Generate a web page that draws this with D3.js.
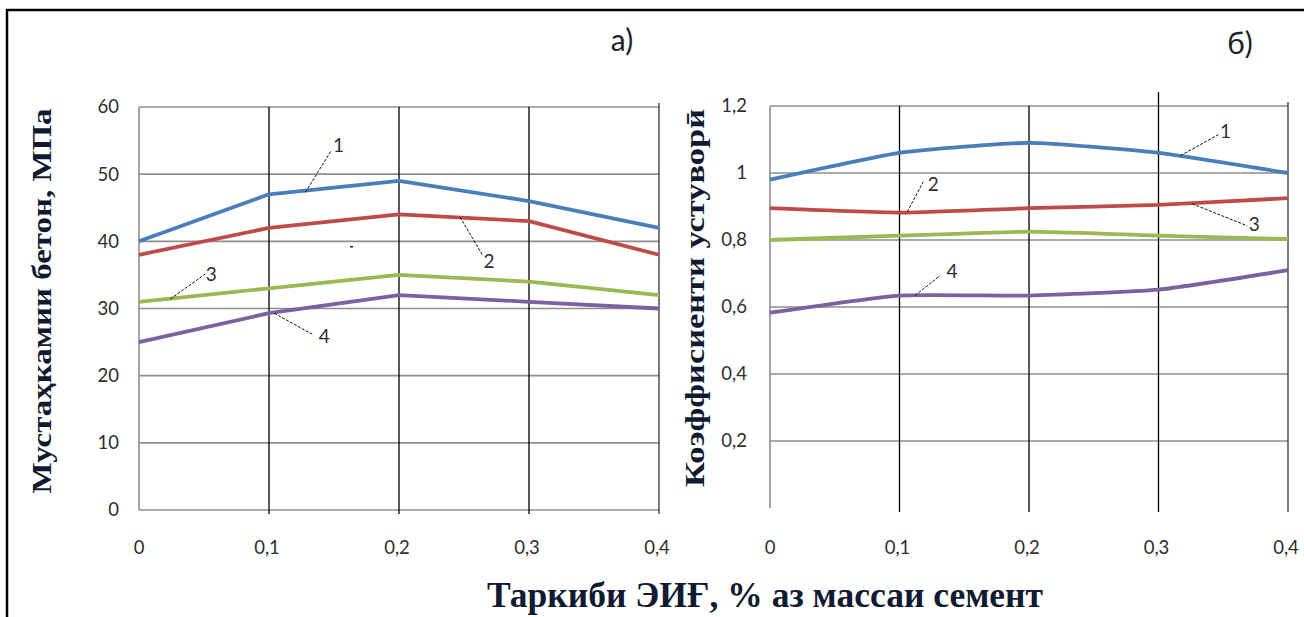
<!DOCTYPE html>
<html>
<head>
<meta charset="utf-8">
<script src="https://cdn.jsdelivr.net/npm/d3@7"></script>
<style>
  body { margin: 0; background: #fff; }
  svg { display: block; }
</style>
</head>
<body>
<script>
// x values (% of cement mass)
const xValues = [0, 0.1, 0.2, 0.3, 0.4];
const xTickLabels = ["0", "0,1", "0,2", "0,3", "0,4"];

// panel a) concrete strength, MPa
const strength1 = [40, 47, 49, 46, 42];
const strength2 = [38, 42, 44, 43, 38];
const strength3 = [31, 33, 35, 34, 32];
const strength4 = [25, 29.3, 32, 31, 30];
const strengthTicks = [0, 10, 20, 30, 40, 50, 60];
const strengthTickLabels = ["0", "10", "20", "30", "40", "50", "60"];

// panel b) stability coefficient
const coef1 = [0.98, 1.06, 1.09, 1.06, 1.0];
const coef2 = [0.895, 0.882, 0.895, 0.905, 0.925];
const coef3 = [0.80, 0.813, 0.825, 0.813, 0.803];
const coef4 = [0.583, 0.634, 0.634, 0.652, 0.71];
const coefTicks = [0.2, 0.4, 0.6, 0.8, 1.0, 1.2];
const coefTickLabels = ["0,2", "0,4", "0,6", "0,8", "1", "1,2"];

const seriesColors = ["#4a7ebb", "#be4b48", "#98b954", "#7d60a0"];

const W = 1304, H = 617;
const svg = d3.select("body").append("svg").attr("width", W).attr("height", H);

// outer frame (left and top edges only are visible)
svg.append("path")
  .attr("d", `M7,${H} L7,10 L${W},10`)
  .attr("fill", "none").attr("stroke", "#000").attr("stroke-width", 2.5);

const tickFont = "Lato, 'Open Sans', sans-serif";
const titleFont = "'Liberation Serif', 'DejaVu Serif', serif";

function drawPanel(cfg) {
  const g = svg.append("g");
  const x = d3.scaleLinear().domain([0, 0.4]).range([cfg.x0, cfg.x1]);
  const y = d3.scaleLinear().domain(cfg.yDomain).range([cfg.y0, cfg.y1]);

  // horizontal grid
  g.selectAll(".hgrid").data(cfg.gridY).join("line")
    .attr("x1", x(0)).attr("x2", x(0.4))
    .attr("y1", d => y(d)).attr("y2", d => y(d))
    .attr("stroke", "#8e8e8e").attr("stroke-width", 1.6);

  // left edge (grey)
  g.append("line")
    .attr("x1", x(0)).attr("x2", x(0))
    .attr("y1", y(cfg.yDomain[1])).attr("y2", y(cfg.yDomain[0]))
    .attr("stroke", "#8e8e8e").attr("stroke-width", 1.6);

  // vertical black lines
  g.selectAll(".vgrid").data(xValues.slice(1)).join("line")
    .attr("x1", d => x(d)).attr("x2", d => x(d))
    .attr("y1", d => y(cfg.yDomain[1]) - (cfg.tallX === d ? 14 : (d === 0.4 ? 4 : 0)))
    .attr("y2", y(cfg.yDomain[0]) + 4)
    .attr("stroke", d => d === 0.4 ? "#333" : "#000").attr("stroke-width", 1.3);

  // y tick labels
  g.selectAll(".ylab").data(cfg.yTicks).join("text")
    .attr("x", cfg.yLabelX).attr("y", d => y(d))
    .attr("dy", "0.35em").attr("text-anchor", "end")
    .attr("font-family", tickFont).attr("font-size", 18.5).attr("fill", "#2e2e2e")
    .text((d, i) => cfg.yTickLabels[i]);

  // x tick labels
  g.selectAll(".xlab").data(xValues).join("text")
    .attr("x", d => x(d) + (d === 0 ? 0 : -2)).attr("y", 548)
    .attr("dy", "0.35em").attr("text-anchor", "middle")
    .attr("font-family", tickFont).attr("font-size", 18.5).attr("fill", "#2e2e2e")
    .text((d, i) => xTickLabels[i]);

  // series
  const line = d3.line()
    .x((d, i) => x(xValues[i]))
    .y(d => y(d))
    .curve(cfg.curve);
  cfg.series.forEach((s, k) => {
    g.append("path").datum(s)
      .attr("fill", "none").attr("stroke", seriesColors[k])
      .attr("stroke-width", 3.8).attr("stroke-linejoin", "round")
      .attr("d", line);
  });

  // leader lines + numbers
  cfg.notes.forEach(n => {
    const px = x(n.at), py = y(n.val);
    g.append("line")
      .attr("x1", px).attr("y1", py)
      .attr("x2", px + n.dx).attr("y2", py + n.dy)
      .attr("stroke", "#111").attr("stroke-width", 1).attr("stroke-dasharray", "3,1.5");
    g.append("text")
      .attr("x", px + n.dx + n.tx).attr("y", py + n.dy + n.ty)
      .attr("dy", "0.35em").attr("text-anchor", "middle")
      .attr("font-family", tickFont).attr("font-size", 19).attr("fill", "#2e2e2e")
      .text(n.label);
  });

  // y title
  g.append("text")
    .attr("transform", `translate(${cfg.titleX},${cfg.titleY}) rotate(-90)`)
    .attr("text-anchor", "middle").attr("dy", "0.35em")
    .attr("font-family", titleFont).attr("font-weight", "bold")
    .attr("font-size", 28).attr("fill", "#101a30")
    .attr("textLength", cfg.titleLen).attr("lengthAdjust", "spacingAndGlyphs")
    .text(cfg.title);

  // panel letter
  g.append("text")
    .attr("x", cfg.letterX).attr("y", cfg.letterY)
    .attr("text-anchor", "middle").attr("dy", "0.35em")
    .attr("font-family", tickFont).attr("font-size", 30).attr("fill", "#222")
    .text(cfg.letter);
}

drawPanel({
  x0: 139, x1: 659, y0: 510, y1: 107,
  yDomain: [0, 60], gridY: strengthTicks, yTicks: strengthTicks, yTickLabels: strengthTickLabels,
  yLabelX: 119,
  series: [strength1, strength2, strength3, strength4],
  curve: d3.curveLinear,
  notes: [
    { at: 0.128, val: 47.3, dx: 26, dy: -42, tx: 7, ty: -5, label: "1" },
    { at: 0.247, val: 43.6, dx: 23, dy: 39, tx: 6, ty: 5, label: "2" },
    { at: 0.024, val: 31.4, dx: 35, dy: -25, tx: 6, ty: 0, label: "3" },
    { at: 0.104, val: 29.3, dx: 38, dy: 21, tx: 12, ty: 2, label: "4" }
  ],
  title: "Мустаҳкамии бетон, МПа", titleX: 41, titleY: 301, titleLen: 385,
  letter: "а)", letterX: 622, letterY: 40
});

drawPanel({
  x0: 770, x1: 1288, y0: 508, y1: 106,
  yDomain: [0, 1.2], gridY: coefTicks, yTicks: coefTicks, yTickLabels: coefTickLabels,
  yLabelX: 747, tallX: 0.3,
  series: [coef1, coef2, coef3, coef4],
  curve: d3.curveCardinal.tension(0.5),
  notes: [
    { at: 0.317, val: 1.052, dx: 38, dy: -21, tx: 7, ty: -3, label: "1" },
    { at: 0.106, val: 0.884, dx: 16, dy: -30, tx: 10, ty: 2, label: "2" },
    { at: 0.326, val: 0.908, dx: 55, dy: 22, tx: 7, ty: -1, label: "3" },
    { at: 0.112, val: 0.634, dx: 25, dy: -20, tx: 12, ty: -4, label: "4" }
  ],
  title: "Коэффисиенти устуворӣ", titleX: 694, titleY: 298, titleLen: 378,
  letter: "б)", letterX: 1240, letterY: 43
});

// shared x title
svg.append("text")
  .attr("x", 765).attr("y", 594)
  .attr("text-anchor", "middle").attr("dy", "0.35em")
  .attr("font-family", titleFont).attr("font-weight", "bold")
  .attr("font-size", 36).attr("fill", "#101a30")
  .attr("textLength", 556).attr("lengthAdjust", "spacingAndGlyphs")
  .text("Таркиби ЭИҒ, % аз массаи семент");

// small stray mark inside panel a)
svg.append("rect").attr("x", 350).attr("y", 246).attr("width", 3).attr("height", 1.5).attr("fill", "#222");
</script>
</body>
</html>
